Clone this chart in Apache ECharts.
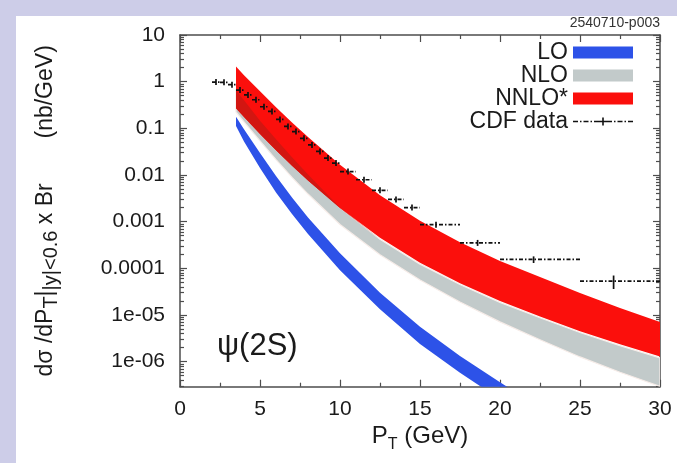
<!DOCTYPE html>
<html><head><meta charset="utf-8">
<script src="https://cdn.jsdelivr.net/npm/echarts@6/dist/echarts.min.js"></script>
<style>html,body{margin:0;padding:0;background:#fff}#c{width:677px;height:463px}</style>
</head><body><div id="c"></div>
<script>
// ---- data (values in nb/GeV, pT in GeV) ----
const ptGrid    = [3.5, 4, 5, 6, 7, 8, 10, 12.5, 15, 17.5, 20, 22.5, 25, 27.5, 30];
const loUpper   = [0.178, 0.095, 0.0295, 0.0095, 0.0033, 0.00123, 2.1e-4, 3.0e-5, 5.6e-6, 1.32e-6, 3.6e-7, 1.05e-7, 3.1e-8, 1.0e-8, 3.3e-9];
const loLower   = [0.112, 0.052, 0.0141, 0.0042, 0.00145, 5.4e-4, 9.1e-5, 1.32e-5, 2.4e-6, 5.8e-7, 1.55e-7, 4.4e-8, 1.3e-8, 4.1e-9, 1.4e-9];
const nloUpper  = [0.65, 0.40, 0.145, 0.058, 0.024, 0.0102, 0.0020, 4.2e-4, 1.23e-4, 4.5e-5, 1.86e-5, 8.7e-6, 4.2e-6, 2.2e-6, 1.2e-6];
const nloLower  = [0.224, 0.138, 0.054, 0.0214, 0.0089, 0.0039, 8.7e-4, 1.95e-4, 5.6e-5, 1.9e-5, 7.1e-6, 2.95e-6, 1.26e-6, 5.9e-7, 2.95e-7];
const nnloUpper = [2.1, 1.38, 0.62, 0.284, 0.134, 0.065, 0.0166, 0.0037, 0.00105, 3.6e-4, 1.44e-4, 6.5e-5, 2.95e-5, 1.41e-5, 7.1e-6];
const nnloLower = [0.27, 0.174, 0.076, 0.034, 0.0158, 0.0076, 0.00195, 4.5e-4, 1.32e-4, 4.8e-5, 2.0e-5, 9.3e-6, 4.5e-6, 2.35e-6, 1.29e-6];

const cdfPt  = [2.25, 2.75, 3.25, 3.75, 4.25, 4.75, 5.25, 5.75, 6.25, 6.75, 7.25, 7.75, 8.25, 8.75, 9.25, 9.75, 10.5, 11.5, 12.5, 13.5, 14.5, 16.0, 18.6, 22.1, 27.1];
const cdfLo  = [2, 2.5, 3, 3.5, 4, 4.5, 5, 5.5, 6, 6.5, 7, 7.5, 8, 8.5, 9, 9.5, 10, 11, 12, 13, 14, 15, 17.5, 20, 25];
const cdfHi  = [2.5, 3, 3.5, 4, 4.5, 5, 5.5, 6, 6.5, 7, 7.5, 8, 8.5, 9, 9.5, 10, 11, 12, 13, 14, 15, 17.5, 20, 25, 30];
const cdfVal = [0.98, 0.97, 0.86, 0.66, 0.52, 0.41, 0.29, 0.23, 0.155, 0.11, 0.085, 0.061, 0.044, 0.032, 0.023, 0.018, 0.0118, 0.0079, 0.0047, 0.0030, 0.0020, 8.6e-4, 3.5e-4, 1.55e-4, 5.3e-5];
const cdfErr = [0.07, 0.07, 0.06, 0.05, 0.04, 0.03, 0.022, 0.018, 0.012, 0.009, 0.007, 0.005, 0.0037, 0.0028, 0.002, 0.0016, 0.0011, 0.0007, 0.00045, 0.0003, 0.0002, 9e-5, 4.5e-5, 2.5e-5, 1.7e-5];

const xTickValues = [0, 5, 10, 15, 20, 25, 30];
const xTickLabels = ['0', '5', '10', '15', '20', '25', '30'];
const yTickValues = [1e-6, 1e-5, 1e-4, 1e-3, 0.01, 0.1, 1, 10];
const yTickLabels = ['1e-06', '1e-05', '0.0001', '0.001', '0.01', '0.1', '1', '10'];
const yRange = [2.9e-7, 10];

// ---- styling ----
const FONT = 'Liberation Sans, Arial, Helvetica, sans-serif';
const AX = '#4d4d4d';
const C_LO = '#2d52e8', C_NLO = '#c2caca', C_NNLO = '#fb0f0c', C_OVER = '#d21611';

const lg = Math.log10;
const yMajor = yTickValues.map(lg);
const yMinor = [];
for (let e = -7; e <= 0; e++) for (let k = 2; k <= 9; k++) {
  const v = lg(k) + e;
  if (v > lg(yRange[0]) && v < lg(yRange[1])) yMinor.push(v);
}

function clipGroup(params, children) {
  const cs = params.coordSys;
  return { type: 'group', clipPath: { type: 'rect', shape: { x: cs.x, y: cs.y, width: cs.width, height: cs.height } }, children };
}

function band(name, upper, lower, color, stroke) {
  return {
    type: 'custom', name, xAxisIndex: 0, yAxisIndex: 0, z: 2,
    itemStyle: { color },
    data: ptGrid.map((p, i) => [p, lg(lower[i]), lg(upper[i])]),
    encode: { x: 0, y: [1, 2] },
    renderItem(params, api) {
      if (params.dataIndex !== 0) return null;
      const pts = [];
      for (let i = 0; i < ptGrid.length; i++) pts.push(api.coord([ptGrid[i], lg(upper[i])]));
      for (let i = ptGrid.length - 1; i >= 0; i--) pts.push(api.coord([ptGrid[i], lg(lower[i])]));
      return clipGroup(params, [{ type: 'polygon', shape: { points: pts },
        style: { fill: color, stroke: stroke || null, lineWidth: stroke ? 1.2 : 0 } }]);
    }
  };
}

// darker region where the NNLO* band lies over the NLO band
const overlapSeries = {
  type: 'custom', xAxisIndex: 0, yAxisIndex: 0, z: 3, silent: true,
  data: [[ptGrid[0], lg(nnloLower[0])]],
  renderItem(params, api) {
    const top = [], bot = [];
    for (let i = 0; i < ptGrid.length; i++) {
      const t = Math.min(lg(nloUpper[i]), lg(nnloUpper[i]));
      const b = Math.min(Math.max(lg(nnloLower[i]), lg(nloLower[i])), t);
      top.push(api.coord([ptGrid[i], t]));
      bot.push(api.coord([ptGrid[i], b]));
    }
    const pts = top.concat(bot.reverse());
    return clipGroup(params, [{ type: 'polygon', shape: { points: pts }, style: { fill: C_OVER } }]);
  }
};

const cdfSeries = {
  type: 'custom', name: 'CDF data', xAxisIndex: 0, yAxisIndex: 0, z: 5,
  itemStyle: { color: '#111' },
  data: cdfPt.map((p, i) => [p, lg(cdfVal[i]), i]),
  encode: { x: 0, y: 1 },
  renderItem(params, api) {
    const i = api.value(2);
    const y = api.value(1);
    const pl = api.coord([cdfLo[i], y]);
    const pr = api.coord([cdfHi[i], y]);
    const pc = api.coord([cdfPt[i], y]);
    let pu = api.coord([cdfPt[i], lg(cdfVal[i] + cdfErr[i])])[1];
    let pd = api.coord([cdfPt[i], lg(cdfVal[i] - cdfErr[i])])[1];
    pu = Math.min(pu, pc[1] - 3); pd = Math.max(pd, pc[1] + 3);
    const st = { stroke: '#111', lineWidth: 1.7 };
    return { type: 'group', children: [
      { type: 'line', shape: { x1: pl[0], y1: pl[1], x2: pr[0], y2: pr[1] }, style: Object.assign({ lineDash: [4, 2, 1.5, 2] }, st) },
      { type: 'line', shape: { x1: pc[0], y1: pu, x2: pc[0], y2: pd }, style: st }
    ] };
  }
};

const cdfIcon = 'path://M0,0L0.01,0ZM60,12L59.99,12Z' +
  'M0,5.2H5V6.8H0ZM7,5.2H8.5V6.8H7ZM10.5,5.2H15.5V6.8H10.5ZM17.5,5.2H19V6.8H17.5ZM21,5.2H39V6.8H21Z' +
  'M29.2,2H30.8V10H29.2ZM41,5.2H42.5V6.8H41ZM44.5,5.2H49.5V6.8H44.5ZM51.5,5.2H53V6.8H51.5ZM55,5.2H60V6.8H55Z';

const tickLbl = { fontSize: 21, color: '#1a1a1a', fontFamily: FONT };
function xAxisCfg(pos, showLabels) {
  return {
    type: 'value', position: pos, min: 0, max: 30, interval: 5,
    axisLine: { show: true, onZero: false, lineStyle: { color: AX, width: 1.5 } },
    axisTick: { show: true, inside: true, length: 7, lineStyle: { color: AX, width: 1.2 } },
    minorTick: { show: true, splitNumber: 2, length: 4, lineStyle: { color: AX, width: 1.2 } },
    splitLine: { show: false }, minorSplitLine: { show: false },
    axisLabel: showLabels ? Object.assign({ margin: 12,
      formatter: v => { const k = xTickValues.indexOf(v); return k >= 0 ? xTickLabels[k] : ''; } }, tickLbl) : { show: false }
  };
}
function yAxisCfg(pos, minor, showLabels) {
  return {
    type: 'value', position: pos, min: lg(yRange[0]), max: lg(yRange[1]),
    axisLine: { show: !minor, onZero: false, lineStyle: { color: AX, width: 1.5 } },
    axisTick: { show: true, inside: true, length: minor ? 4 : 7, customValues: minor ? yMinor : yMajor, lineStyle: { color: AX, width: 1.2 } },
    splitLine: { show: false },
    axisLabel: showLabels ? Object.assign({ margin: 15, customValues: yMajor,
      formatter: v => { const k = yMajor.findIndex(m => Math.abs(m - v) < 1e-6); return k >= 0 ? yTickLabels[k] : ''; } }, tickLbl) : { show: false }
  };
}

const xa0 = xAxisCfg('bottom', true);
Object.assign(xa0, {
  name: '{m|P}{s|T}{m| (GeV)}', nameLocation: 'middle', nameGap: 34,
  nameTextStyle: { rich: {
    m: { fontSize: 24, fontFamily: FONT, color: '#1a1a1a', lineHeight: 32, verticalAlign: 'middle' },
    s: { fontSize: 16, fontFamily: FONT, color: '#1a1a1a', lineHeight: 32, verticalAlign: 'bottom' } } }
});
const ya0 = yAxisCfg('left', false, true);
Object.assign(ya0, {
  name: '{m|dσ /dP}{s|T}{m||}{s||y|<0.6}{m| x Br       (nb/GeV)}', nameLocation: 'middle', nameGap: 119,
  nameTextStyle: { rich: {
    m: { fontSize: 23, fontFamily: FONT, color: '#1a1a1a', lineHeight: 30, verticalAlign: 'middle' },
    s: { fontSize: 20, fontFamily: FONT, color: '#1a1a1a', lineHeight: 30, verticalAlign: 'bottom' } } }
});

const chart = echarts.init(document.getElementById('c'), null, { renderer: 'canvas' });
chart.setOption({
  backgroundColor: '#ffffff',
  animation: false,
  grid: { left: 180, right: 17, top: 35, bottom: 76.3, containLabel: false },
  xAxis: [xa0, xAxisCfg('top', false)],
  yAxis: [ya0, yAxisCfg('left', true, false), yAxisCfg('right', false, false), yAxisCfg('right', true, false)],
  legend: {
    orient: 'vertical', right: 44, top: 41, align: 'right', itemGap: 0, padding: 0,
    itemWidth: 60, itemHeight: 12, selectedMode: false,
    textStyle: { fontSize: 23, color: '#1a1a1a', fontFamily: FONT },
    data: [
      { name: 'LO', icon: 'rect', itemStyle: { color: C_LO } },
      { name: 'NLO', icon: 'rect', itemStyle: { color: C_NLO } },
      { name: 'NNLO*', icon: 'rect', itemStyle: { color: C_NNLO } },
      { name: 'CDF data', icon: cdfIcon, itemStyle: { color: '#111' } }
    ]
  },
  graphic: [
    { type: 'rect', left: 0, top: 0, shape: { width: 677, height: 16 }, style: { fill: '#cdcde8' }, z: 100 },
    { type: 'rect', left: 0, top: 0, shape: { width: 16, height: 463 }, style: { fill: '#cdcde8' }, z: 100 },
    { type: 'text', right: 17, top: 16, style: { text: '2540710-p003', font: '14px ' + FONT, fill: '#333' } },
    { type: 'text', left: 217, top: 331, style: { text: 'ψ(2S)', font: '31px ' + FONT, fill: '#1a1a1a' }, z: 10 }
  ],
  series: [
    band('LO', loUpper, loLower, C_LO),
    band('NLO', nloUpper, nloLower, C_NLO, '#f6ece8'),
    band('NNLO*', nnloUpper, nnloLower, C_NNLO),
    overlapSeries,
    cdfSeries
  ]
});
</script>
</body></html>
